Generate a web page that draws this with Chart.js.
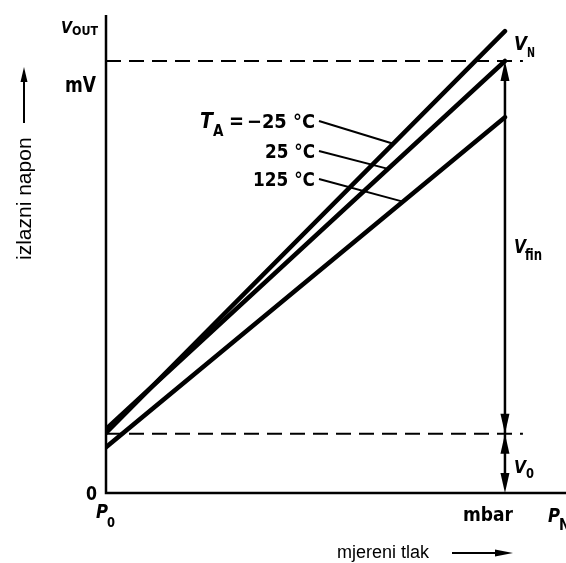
<!DOCTYPE html>
<html>
<head>
<meta charset="utf-8">
<script src="https://cdn.jsdelivr.net/npm/chart.js@4.4.0/dist/chart.umd.min.js"></script>
<style>
  html, body { margin: 0; padding: 0; background: #fff; }
</style>
</head>
<body>
<canvas id="chart" width="566" height="563"></canvas>
<script>
// Elements
const chartCanvas = document.getElementById("chart");

// Data (relative units: pressure 0 = P0, 100 = mbar mark; voltage 100 = V_N)
const pressure = [0, 100];
const voutMinus25 = [13.9, 106.9];
const vout25 = [14.8, 100];
const vout125 = [10.6, 87.0];
const tempLabels = ["−25 °C", "25 °C", "125 °C"];
const leaderHit = [72, 70.7, 74.4]; // pressure where each leader meets its line
const vNominal = 100;  // V_N
const vOffset = 13.7;  // V_0
const dashEnd = 104.5;
const xMax = 115.3;
const yMax = 110.65;

const tempSeries = [voutMinus25, vout25, vout125];

const COND = '"DejaVu Sans Condensed", "DejaVu Sans", sans-serif';
const ARIAL = '"Liberation Sans", Arial, sans-serif';

function toPoints(ys) {
  return pressure.map((x, i) => ({ x, y: ys[i] }));
}

function valueAt(ys, p) {
  return ys[0] + (ys[1] - ys[0]) * (p - pressure[0]) / (pressure[1] - pressure[0]);
}

// Drawing helpers
function line(ctx, x1, y1, x2, y2) {
  ctx.beginPath();
  ctx.moveTo(x1, y1);
  ctx.lineTo(x2, y2);
  ctx.stroke();
}

// vertical arrow head, dir -1 = up, 1 = down
function headV(ctx, x, tipY, dir, len, half) {
  ctx.beginPath();
  ctx.moveTo(x, tipY);
  ctx.lineTo(x - half, tipY - dir * len);
  ctx.lineTo(x + half, tipY - dir * len);
  ctx.closePath();
  ctx.fill();
}

function text(ctx, str, x, y, font, align, maxW) {
  ctx.font = font;
  ctx.textAlign = align || "left";
  if (maxW) ctx.fillText(str, x, y, maxW);
  else ctx.fillText(str, x, y);
}

const annotations = {
  id: "annotations",
  afterDraw(chart) {
    const ctx = chart.ctx;
    const xs = chart.scales.x;
    const ys = chart.scales.y;
    const area = chart.chartArea;
    const xN = xs.getPixelForValue(pressure[1]);
    const yN = ys.getPixelForValue(vNominal);
    const y0 = ys.getPixelForValue(vOffset);

    ctx.save();
    ctx.strokeStyle = "#000";
    ctx.fillStyle = "#000";
    ctx.textBaseline = "alphabetic";

    // axes
    ctx.lineWidth = 2.5;
    ctx.beginPath();
    ctx.moveTo(area.left, area.top);
    ctx.lineTo(area.left, area.bottom);
    ctx.lineTo(area.right, area.bottom);
    ctx.stroke();

    // V_fin / V_0 dimension arrows
    ctx.lineWidth = 2.5;
    line(ctx, xN, yN + 10, xN, area.bottom - 10);
    headV(ctx, xN, yN, -1, 20, 4.5);
    headV(ctx, xN, y0, 1, 20, 4.5);
    headV(ctx, xN, y0, -1, 20, 4.5);
    headV(ctx, xN, area.bottom, 1, 20, 4.5);

    // temperature labels + leader lines
    const rows = [128, 158, 186];
    ctx.lineWidth = 2;
    text(ctx, tempLabels[0], 315, rows[0], "bold 20px " + COND, "right", 68);
    text(ctx, tempLabels[1], 315, rows[1], "bold 20px " + COND, "right", 50);
    text(ctx, tempLabels[2], 315, rows[2], "bold 20px " + COND, "right", 62);
    tempLabels.forEach((lab, i) => {
      const px = xs.getPixelForValue(leaderHit[i]);
      const py = ys.getPixelForValue(valueAt(tempSeries[i], leaderHit[i]));
      line(ctx, 319, rows[i] - 7, px, py);
    });
    text(ctx, "T", 200, 128, "italic bold 21px " + COND, "left", 14);
    text(ctx, "A", 213, 136, "bold 15px " + COND, "left", 11);
    text(ctx, "=", 229, 128, "bold 21px " + COND, "left", 15);

    // axis texts
    text(ctx, "V", 61, 33, "italic bold 16px " + COND, "left", 11);
    text(ctx, "OUT", 72, 35, "bold 13px " + COND, "left", 26);
    text(ctx, "mV", 65, 92, "bold 22px " + COND, "left", 31);
    text(ctx, "0", 86, 500, "bold 20px " + COND, "left", 11);
    text(ctx, "P", 96, 518, "italic bold 20px " + COND, "left", 12);
    text(ctx, "0", 107, 527, "bold 14px " + COND, "left", 8);
    text(ctx, "mbar", 463, 521, "bold 20px " + COND, "left", 50);
    text(ctx, "P", 548, 522, "italic bold 20px " + COND, "left", 12);
    text(ctx, "N", 559, 530, "bold 15px " + COND);

    text(ctx, "V", 514, 50, "italic bold 20px " + COND, "left", 13);
    text(ctx, "N", 527, 57, "bold 14px " + COND, "left", 8);
    text(ctx, "V", 514, 253, "italic bold 20px " + COND, "left", 12);
    text(ctx, "fin", 525, 260, "bold 15px " + COND, "left", 17);
    text(ctx, "V", 514, 473, "italic bold 18px " + COND, "left", 12);
    text(ctx, "0", 526, 478, "bold 14px " + COND, "left", 8);

    // outer axis titles (Arial)
    ctx.save();
    ctx.translate(31, 260);
    ctx.rotate(-Math.PI / 2);
    text(ctx, "izlazni napon", 0, 0, "21px " + ARIAL);
    ctx.restore();
    ctx.lineWidth = 2;
    line(ctx, 24, 123, 24, 75);
    headV(ctx, 24, 67, -1, 15, 3.5);

    text(ctx, "mjereni tlak", 337, 558, "18px " + ARIAL);
    line(ctx, 452, 553, 500, 553);
    ctx.beginPath();
    ctx.moveTo(513, 553);
    ctx.lineTo(495, 549.5);
    ctx.lineTo(495, 556.5);
    ctx.closePath();
    ctx.fill();

    ctx.restore();
  }
};

const solid = ys => ({
  data: toPoints(ys),
  borderColor: "#000",
  borderWidth: 4.5,
  borderCapStyle: "round",
  pointRadius: 0,
  fill: false
});

const dashed = v => ({
  data: [{ x: pressure[0], y: v }, { x: dashEnd, y: v }],
  borderColor: "#000",
  borderWidth: 2,
  borderDash: [15, 8],
  pointRadius: 0,
  fill: false
});

new Chart(chartCanvas.getContext("2d"), {
  type: "line",
  data: {
    datasets: [
      solid(voutMinus25),
      solid(vout25),
      solid(vout125),
      dashed(vNominal),
      dashed(vOffset)
    ]
  },
  options: {
    responsive: false,
    animation: false,
    layout: { padding: { left: 106, top: 15, right: 0, bottom: 70 } },
    scales: {
      x: { type: "linear", min: 0, max: xMax, display: false },
      y: { type: "linear", min: 0, max: yMax, display: false }
    },
    plugins: { legend: { display: false }, tooltip: { enabled: false } }
  },
  plugins: [annotations]
});
</script>
</body>
</html>
